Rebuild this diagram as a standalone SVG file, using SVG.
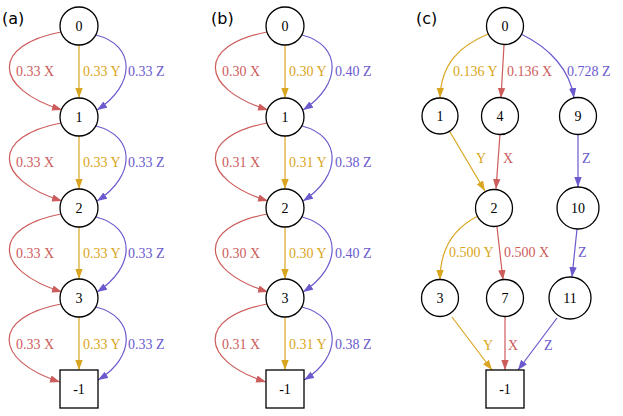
<svg xmlns="http://www.w3.org/2000/svg" width="623" height="416" viewBox="0 0 623 416">
<style>
.n{fill:#fff;stroke:#000;stroke-width:1.3}
.t{font-family:"Liberation Serif","Times New Roman",serif;font-size:14px}
.c{text-anchor:middle}
.p{font-family:"DejaVu Sans",sans-serif;font-size:16px}
.r{stroke:#cd5c5c;fill:none;stroke-width:1.2;marker-end:url(#ar)}
.y{stroke:#daa520;fill:none;stroke-width:1.2;marker-end:url(#ay)}
.b{stroke:#6a5acd;fill:none;stroke-width:1.2;marker-end:url(#ab)}
.lr{fill:#cd5c5c}.ly{fill:#daa520}.lb{fill:#6a5acd}
</style>
<defs>
<marker id="ar" markerUnits="userSpaceOnUse" markerWidth="10" markerHeight="8" viewBox="0 0 10 8" refX="10" refY="4" orient="auto"><path d="M0,0.3L10,4L0,7.7z" fill="#cd5c5c"/></marker>
<marker id="ay" markerUnits="userSpaceOnUse" markerWidth="10" markerHeight="8" viewBox="0 0 10 8" refX="10" refY="4" orient="auto"><path d="M0,0.3L10,4L0,7.7z" fill="#daa520"/></marker>
<marker id="ab" markerUnits="userSpaceOnUse" markerWidth="10" markerHeight="8" viewBox="0 0 10 8" refX="10" refY="4" orient="auto"><path d="M0,0.3L10,4L0,7.7z" fill="#6a5acd"/></marker>
</defs>
<text class="p" x="2" y="24">(a)</text>
<text class="p" x="211" y="24">(b)</text>
<text class="p" x="416" y="24">(c)</text>
<g id="edges">
<!-- panel a -->
<path class="r" d="M61,32C-8,45 -8,88 62,110"/>
<path class="y" d="M79,45L79,98"/>
<path class="b" d="M96,35C136,45 136,85 97,110"/>
<path class="r" d="M61,123C-8,136 -8,179 62,201"/>
<path class="y" d="M79,136L79,189"/>
<path class="b" d="M96,126C136,136 136,176 97,201"/>
<path class="r" d="M61,214C-8,227 -8,270 62,292"/>
<path class="y" d="M79,227L79,279"/>
<path class="b" d="M96,217C136,227 136,267 97,292"/>
<path class="r" d="M61,304C-8,317 -8,360 60,382"/>
<path class="y" d="M79,317L79,370"/>
<path class="b" d="M96,307C136,317 136,357 98,380"/>
<!-- panel b -->
<path class="r" d="M267,32C198,45 198,88 268,110"/>
<path class="y" d="M285,45L285,98"/>
<path class="b" d="M302,35C342,45 342,85 303,110"/>
<path class="r" d="M267,123C198,136 198,179 268,201"/>
<path class="y" d="M285,136L285,189"/>
<path class="b" d="M302,126C342,136 342,176 303,201"/>
<path class="r" d="M267,214C198,227 198,270 268,292"/>
<path class="y" d="M285,227L285,279"/>
<path class="b" d="M302,217C342,227 342,267 303,292"/>
<path class="r" d="M267,304C198,317 198,360 266,382"/>
<path class="y" d="M285,317L285,370"/>
<path class="b" d="M302,307C342,317 342,357 304,380"/>
<!-- panel c -->
<path class="y" d="M488,34C462,45 441,62 440,98"/>
<path class="r" d="M504,45L501,98"/>
<path class="b" d="M521,34C550,48 570,70 574,98"/>
<path class="y" d="M450,132L485,191"/>
<path class="r" d="M500,134L496,189"/>
<path class="b" d="M578,135L578,187"/>
<path class="y" d="M478,216C452,229 440,250 440,280"/>
<path class="r" d="M497,227L503,280"/>
<path class="b" d="M577,229L572,277"/>
<path class="y" d="M452,317L492,370"/>
<path class="r" d="M505,317L505,370"/>
<path class="b" d="M557,318L518,370"/>
</g>
<g id="labels" class="t">
<text class="lr" x="16" y="76">0.33 X</text><text class="ly" x="83" y="76">0.33 Y</text><text class="lb" x="128" y="76">0.33 Z</text>
<text class="lr" x="16" y="167">0.33 X</text><text class="ly" x="83" y="167">0.33 Y</text><text class="lb" x="128" y="167">0.33 Z</text>
<text class="lr" x="16" y="258">0.33 X</text><text class="ly" x="83" y="258">0.33 Y</text><text class="lb" x="128" y="258">0.33 Z</text>
<text class="lr" x="16" y="349">0.33 X</text><text class="ly" x="83" y="349">0.33 Y</text><text class="lb" x="128" y="349">0.33 Z</text>
<text class="lr" x="222" y="76">0.30 X</text><text class="ly" x="289" y="76">0.30 Y</text><text class="lb" x="335" y="76">0.40 Z</text>
<text class="lr" x="222" y="167">0.31 X</text><text class="ly" x="289" y="167">0.31 Y</text><text class="lb" x="335" y="167">0.38 Z</text>
<text class="lr" x="222" y="258">0.30 X</text><text class="ly" x="289" y="258">0.30 Y</text><text class="lb" x="335" y="258">0.40 Z</text>
<text class="lr" x="222" y="349">0.31 X</text><text class="ly" x="289" y="349">0.31 Y</text><text class="lb" x="335" y="349">0.38 Z</text>
<text class="ly" x="453" y="76">0.136 Y</text><text class="lr" x="507" y="76">0.136 X</text><text class="lb" x="567" y="76">0.728 Z</text>
<text class="ly" x="476" y="163">Y</text><text class="lr" x="503" y="163">X</text><text class="lb" x="582" y="163">Z</text>
<text class="ly" x="449" y="257">0.500 Y</text><text class="lr" x="504" y="257">0.500 X</text><text class="lb" x="578" y="257">Z</text>
<text class="ly" x="483" y="350">Y</text><text class="lr" x="508" y="350">X</text><text class="lb" x="544" y="350">Z</text>
</g>
<g id="a0"><circle class="n" cx="79" cy="26" r="19"/><text class="t c" x="79" y="31">0</text></g>
<g id="a1"><circle class="n" cx="79" cy="117" r="19"/><text class="t c" x="79" y="122">1</text></g>
<g id="a2"><circle class="n" cx="79" cy="208" r="19"/><text class="t c" x="79" y="213">2</text></g>
<g id="a3"><circle class="n" cx="79" cy="298" r="19"/><text class="t c" x="79" y="303">3</text></g>
<g id="am1"><rect class="n" x="60" y="370" width="38" height="38"/><text class="t c" x="79" y="394">-1</text></g>
<g id="b0"><circle class="n" cx="285" cy="26" r="19"/><text class="t c" x="285" y="31">0</text></g>
<g id="b1"><circle class="n" cx="285" cy="117" r="19"/><text class="t c" x="285" y="122">1</text></g>
<g id="b2"><circle class="n" cx="285" cy="208" r="19"/><text class="t c" x="285" y="213">2</text></g>
<g id="b3"><circle class="n" cx="285" cy="298" r="19"/><text class="t c" x="285" y="303">3</text></g>
<g id="bm1"><rect class="n" x="266" y="370" width="38" height="38"/><text class="t c" x="285" y="394">-1</text></g>
<g id="c0"><circle class="n" cx="505" cy="26" r="18.5"/><text class="t c" x="505" y="31">0</text></g>
<g id="c1"><circle class="n" cx="440" cy="116" r="18"/><text class="t c" x="440" y="121">1</text></g>
<g id="c4"><circle class="n" cx="500" cy="116" r="18.5"/><text class="t c" x="500" y="121">4</text></g>
<g id="c9"><circle class="n" cx="578" cy="116" r="18.5"/><text class="t c" x="578" y="121">9</text></g>
<g id="c2"><circle class="n" cx="494" cy="208" r="18.5"/><text class="t c" x="494" y="213">2</text></g>
<g id="c10"><circle class="n" cx="578" cy="208" r="21"/><text class="t c" x="578" y="213">10</text></g>
<g id="c3"><circle class="n" cx="440" cy="298" r="18.5"/><text class="t c" x="440" y="303">3</text></g>
<g id="c7"><circle class="n" cx="505" cy="298" r="18.5"/><text class="t c" x="505" y="303">7</text></g>
<g id="c11"><circle class="n" cx="570" cy="298" r="21"/><text class="t c" x="570" y="303">11</text></g>
<g id="cm1"><rect class="n" x="486" y="370" width="38" height="38"/><text class="t c" x="505" y="394">-1</text></g>
</svg>
